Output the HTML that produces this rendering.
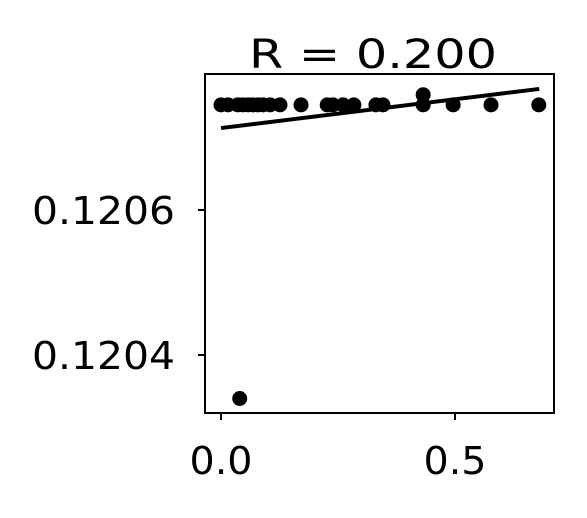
<!DOCTYPE html>
<html><head><meta charset="utf-8"><style>
body{margin:0;background:#fff;}
svg text{font-family:"DejaVu Sans","Liberation Sans",sans-serif;}
</style></head><body>
<svg id="chart" width="587" height="513">
<text x="373" y="68" font-size="40" text-anchor="middle" textLength="248" lengthAdjust="spacingAndGlyphs">R = 0.200</text>
<g id="marks"></g>
<rect x="205" y="74" width="349" height="339" fill="none" stroke="#000" stroke-width="2"/>
<g id="axes"></g>
</svg>
<script>
const xTicks=[0.0,0.5];
const xTickLabels=["0.0","0.5"];
const yTicks=[0.1204,0.1206];
const yTickLabels=["0.1204","0.1206"];
const xValues=[0,0.015,0.036,0.047,0.058,0.068,0.079,0.09,0.105,0.126,0.171,0.227,0.239,0.261,0.284,0.331,0.346,0.432,0.432,0.496,0.577,0.679,0.04];
const yValues=[0.120745,0.120745,0.120745,0.120745,0.120745,0.120745,0.120745,0.120745,0.120745,0.120745,0.120745,0.120745,0.120745,0.120745,0.120745,0.120745,0.120745,0.120745,0.120759,0.120745,0.120745,0.120745,0.12034];
const fitX=[0,0.68];
const fitY=[0.120713,0.120767];
const xs=v=>221+v*468;
const ys=v=>210-(v-0.1206)/0.0002*145;
const NS="http://www.w3.org/2000/svg";
const marks=document.getElementById('marks'),axes=document.getElementById('axes');
function mk(t,a,p){const e=document.createElementNS(NS,t);for(const k in a)e.setAttribute(k,a[k]);p.appendChild(e);return e;}
xValues.forEach((x,i)=>{
 const c=mk('circle',{cx:xs(x),cy:ys(yValues[i]),r:7.5,fill:'#000'},marks);
 
 
});
const l=mk('line',{x1:xs(fitX[0]),y1:ys(fitY[0]),x2:xs(fitX[1]),y2:ys(fitY[1]),stroke:'#000','stroke-width':4},marks);


xTicks.forEach((t,i)=>{
 const tk=mk('line',{x1:xs(t),x2:xs(t),y1:413,y2:420,stroke:'#000','stroke-width':2},axes);
 
 
 const tx=mk('text',{x:xs(t),y:474,'font-size':38,'text-anchor':'middle',textLength:63,lengthAdjust:'spacingAndGlyphs'},axes);
 tx.textContent=xTickLabels[i];
 
 
});
yTicks.forEach((t,i)=>{
 const tk=mk('line',{x1:198,x2:205,y1:ys(t),y2:ys(t),stroke:'#000','stroke-width':2},axes);
 
 
 const tx=mk('text',{x:175,y:ys(t)+14,'font-size':38,'text-anchor':'end',textLength:143,lengthAdjust:'spacingAndGlyphs'},axes);
 tx.textContent=yTickLabels[i];
 
 
});
</script>
</body></html>
